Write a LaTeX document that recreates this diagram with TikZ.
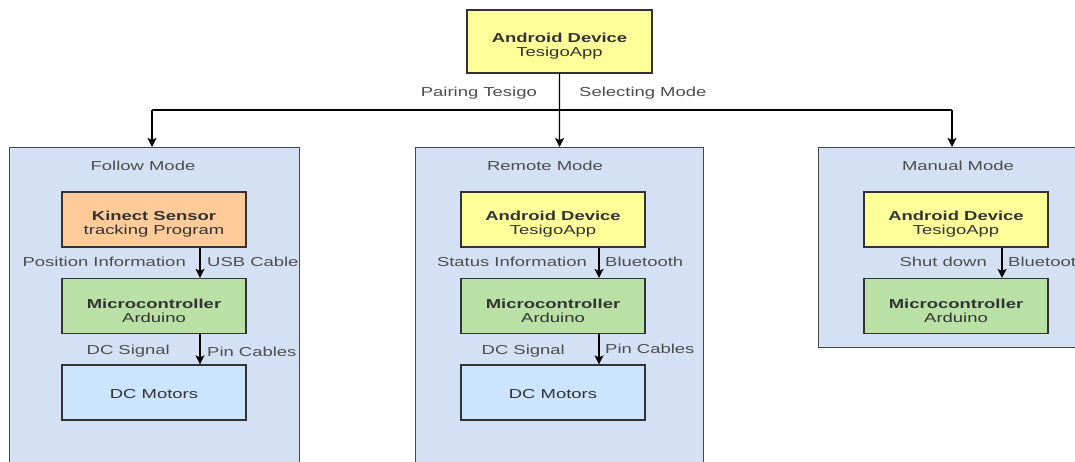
\documentclass[tikz,border=0pt]{standalone}
\usepackage{fontspec}
\setmainfont{Liberation Sans}[FakeStretch=1.42]
\usetikzlibrary{arrows.meta}
\definecolor{cont}{HTML}{D4E1F5}
\definecolor{yel}{HTML}{FFFF99}
\definecolor{ora}{HTML}{FFCC99}
\definecolor{grn}{HTML}{B9E0A5}
\definecolor{blu}{HTML}{CCE5FF}
\definecolor{edge}{HTML}{333333}
\definecolor{txt}{HTML}{333333}
\definecolor{lbl}{HTML}{4D4D4D}
\newcommand{\upstrut}{\rule{0pt}{18.5pt}}
\newcommand{\onestrut}{\rule{0pt}{13pt}}
\tikzset{
  container/.style={draw=edge!90, fill=cont, line width=1.2pt, inner sep=0pt, anchor=north west},
  comp/.style={draw=edge, line width=1.2pt, minimum width=184pt, minimum height=55pt, inner sep=0pt, align=center, text=txt, font=\fontsize{13pt}{14pt}\selectfont},
  lab/.style={text=lbl, inner sep=0pt, yshift=-1.5pt, font=\fontsize{13pt}{14pt}\selectfont},
  title/.style={text=lbl, inner sep=0pt, yshift=-1pt, font=\fontsize{13pt}{14pt}\selectfont},
  conn/.style={draw=black, line width=1.2pt, -{Stealth[length=9pt,width=9pt,inset=2pt]}},
  plain/.style={draw=black, line width=1.2pt}
}
\begin{document}
\begin{tikzpicture}[x=1pt,y=-1pt]
\useasboundingbox (0,0) rectangle (1075,461);
\clip (0,0) rectangle (1075,461);
% containers
\node[container, minimum width=290pt, minimum height=330pt] (follow) at (9,147) {};
\node[container, minimum width=288pt, minimum height=330pt] (remote) at (415,147) {};
\node[container, minimum width=268pt, minimum height=200pt] (manual) at (818,147) {};
% titles
\node[title] (tf) at (143,165) {Follow Mode};
\node[title] (tr) at (545,165) {Remote Mode};
\node[title] (tm) at (958,165) {Manual Mode};
% top
\node[comp, fill=yel, minimum width=185pt, minimum height=63pt] (top) at (559.5,41.5) {\upstrut\textbf{Android Device}\\TesigoApp};
% follow
\node[comp, fill=ora] (kin) at (154,219.5) {\upstrut\textbf{Kinect Sensor}\\tracking Program};
\node[comp, fill=grn] (mc1) at (154,306) {\upstrut\textbf{Microcontroller}\\Arduino};
\node[comp, fill=blu] (dc1) at (154,392.5) {\onestrut DC Motors};
% remote
\node[comp, fill=yel] (ad2) at (553,219.5) {\upstrut\textbf{Android Device}\\TesigoApp};
\node[comp, fill=grn] (mc2) at (553,306) {\upstrut\textbf{Microcontroller}\\Arduino};
\node[comp, fill=blu] (dc2) at (553,392.5) {\onestrut DC Motors};
% manual
\node[comp, fill=yel] (ad3) at (956,219.5) {\upstrut\textbf{Android Device}\\TesigoApp};
\node[comp, fill=grn] (mc3) at (956,306) {\upstrut\textbf{Microcontroller}\\Arduino};
% top connectors
\coordinate (j) at (559,110);
\draw[conn] (top.south) -- (remote.north);
\draw[plain] (j) -- (152,110) coordinate (jl);
\draw[conn] (jl) -- (jl |- follow.north);
\draw[plain] (j) -- (952,110) coordinate (jr);
\draw[conn] (jr) -- (jr |- manual.north);
\node[lab, anchor=east] (l1) at (537,92) {Pairing Tesigo};
\node[lab, anchor=west] (l2) at (579,92) {Selecting Mode};
% inner connectors
\draw[conn] ([xshift=46pt]kin.south) -- ([xshift=46pt]mc1.north);
\draw[conn] ([xshift=46pt]mc1.south) -- ([xshift=46pt]dc1.north);
\draw[conn] ([xshift=46pt]ad2.south) -- ([xshift=46pt]mc2.north);
\draw[conn] ([xshift=46pt]mc2.south) -- ([xshift=46pt]dc2.north);
\draw[conn] ([xshift=46pt]ad3.south) -- ([xshift=46pt]mc3.north);
% labels
\node[lab, anchor=east] (f1) at (186,260) {Position Information};
\node[lab, anchor=west] (f2) at (207,260) {USB Cable};
\node[lab, anchor=east] (f3) at (170,350) {DC Signal};
\node[lab, anchor=west] (f4) at (207,350) {Pin Cables};
\node[lab, anchor=east] (r1) at (587,260) {Status Information};
\node[lab, anchor=west] (r2) at (605,260) {Bluetooth};
\node[lab, anchor=east] (r3) at (565,350) {DC Signal};
\node[lab, anchor=west] (r4) at (605,347) {Pin Cables};
\node[lab, anchor=east] (m1) at (987,260) {Shut down};
\node[lab, anchor=west] (m2) at (1008,260) {Bluetooth};
\end{tikzpicture}
\end{document}
